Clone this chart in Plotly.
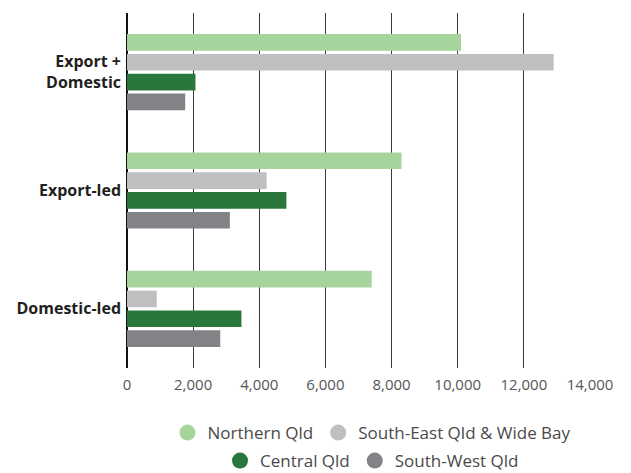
import plotly.graph_objects as go

categories = ["Export +<br>Domestic", "Export-led", "Domestic-led"]
series_names = ["Northern Qld", "South-East Qld & Wide Bay", "Central Qld", "South-West Qld"]
northern = [10100, 8300, 7400]
south_east = [12900, 4220, 900]
central = [2070, 4820, 3460]
south_west = [1760, 3110, 2820]
colors = ["#A5D59D", "#BEBFC1", "#2A773B", "#828386"]
x_ticks = [0, 2000, 4000, 6000, 8000, 10000, 12000, 14000]

values = [northern, south_east, central, south_west]

# page body has an 8px default margin; figure size compensates
W, H = 623, 465

fig = go.Figure()
for name, vals, col in zip(series_names, values, colors):
    fig.add_trace(go.Bar(y=categories, x=vals, orientation="h", name=name,
                         marker=dict(color=col, line=dict(width=0)), showlegend=False))

legend_ids = ["legend", "legend", "legend2", "legend2"]
for name, col, lg in zip(series_names, colors, legend_ids):
    fig.add_trace(go.Scatter(x=[None], y=[None], mode="markers", name=name,
                             marker=dict(symbol="circle", size=16, color=col),
                             showlegend=True, legend=lg))

legend_common = dict(orientation="h", xref="container", yref="container",
                     xanchor="center", yanchor="middle", x=364 / W,
                     font=dict(family="Open Sans", size=17, color="#4a4a4a"),
                     bgcolor="rgba(0,0,0,0)", itemwidth=30)

fig.update_layout(
    width=W, height=H,
    margin=dict(l=119, r=41, t=5, b=105, autoexpand=False),
    paper_bgcolor="white", plot_bgcolor="white",
    barmode="group", bargap=0.33, bargroupgap=0.16,
    font=dict(family="Open Sans"),
    legend=dict(**legend_common, y=1 - 425 / H),
    legend2=dict(**legend_common, y=1 - 453 / H),
    xaxis=dict(range=[0, 14000], tickvals=x_ticks, tickformat=",",
               automargin=False,
               showgrid=True, gridcolor="#3a3a3a", gridwidth=1,
               zeroline=True, zerolinecolor="#111111", zerolinewidth=1.5,
               showline=False, ticks="", ticklabelstandoff=6,
               tickfont=dict(family="Open Sans", size=15, color="#555555")),
    yaxis=dict(autorange="reversed", showgrid=False, showline=False, ticks="",
               automargin=False, ticklabelstandoff=5,
               tickfont=dict(family="Open Sans", size=16, color="#231F20", weight="bold")),
)

fig.write_html("out.html")
